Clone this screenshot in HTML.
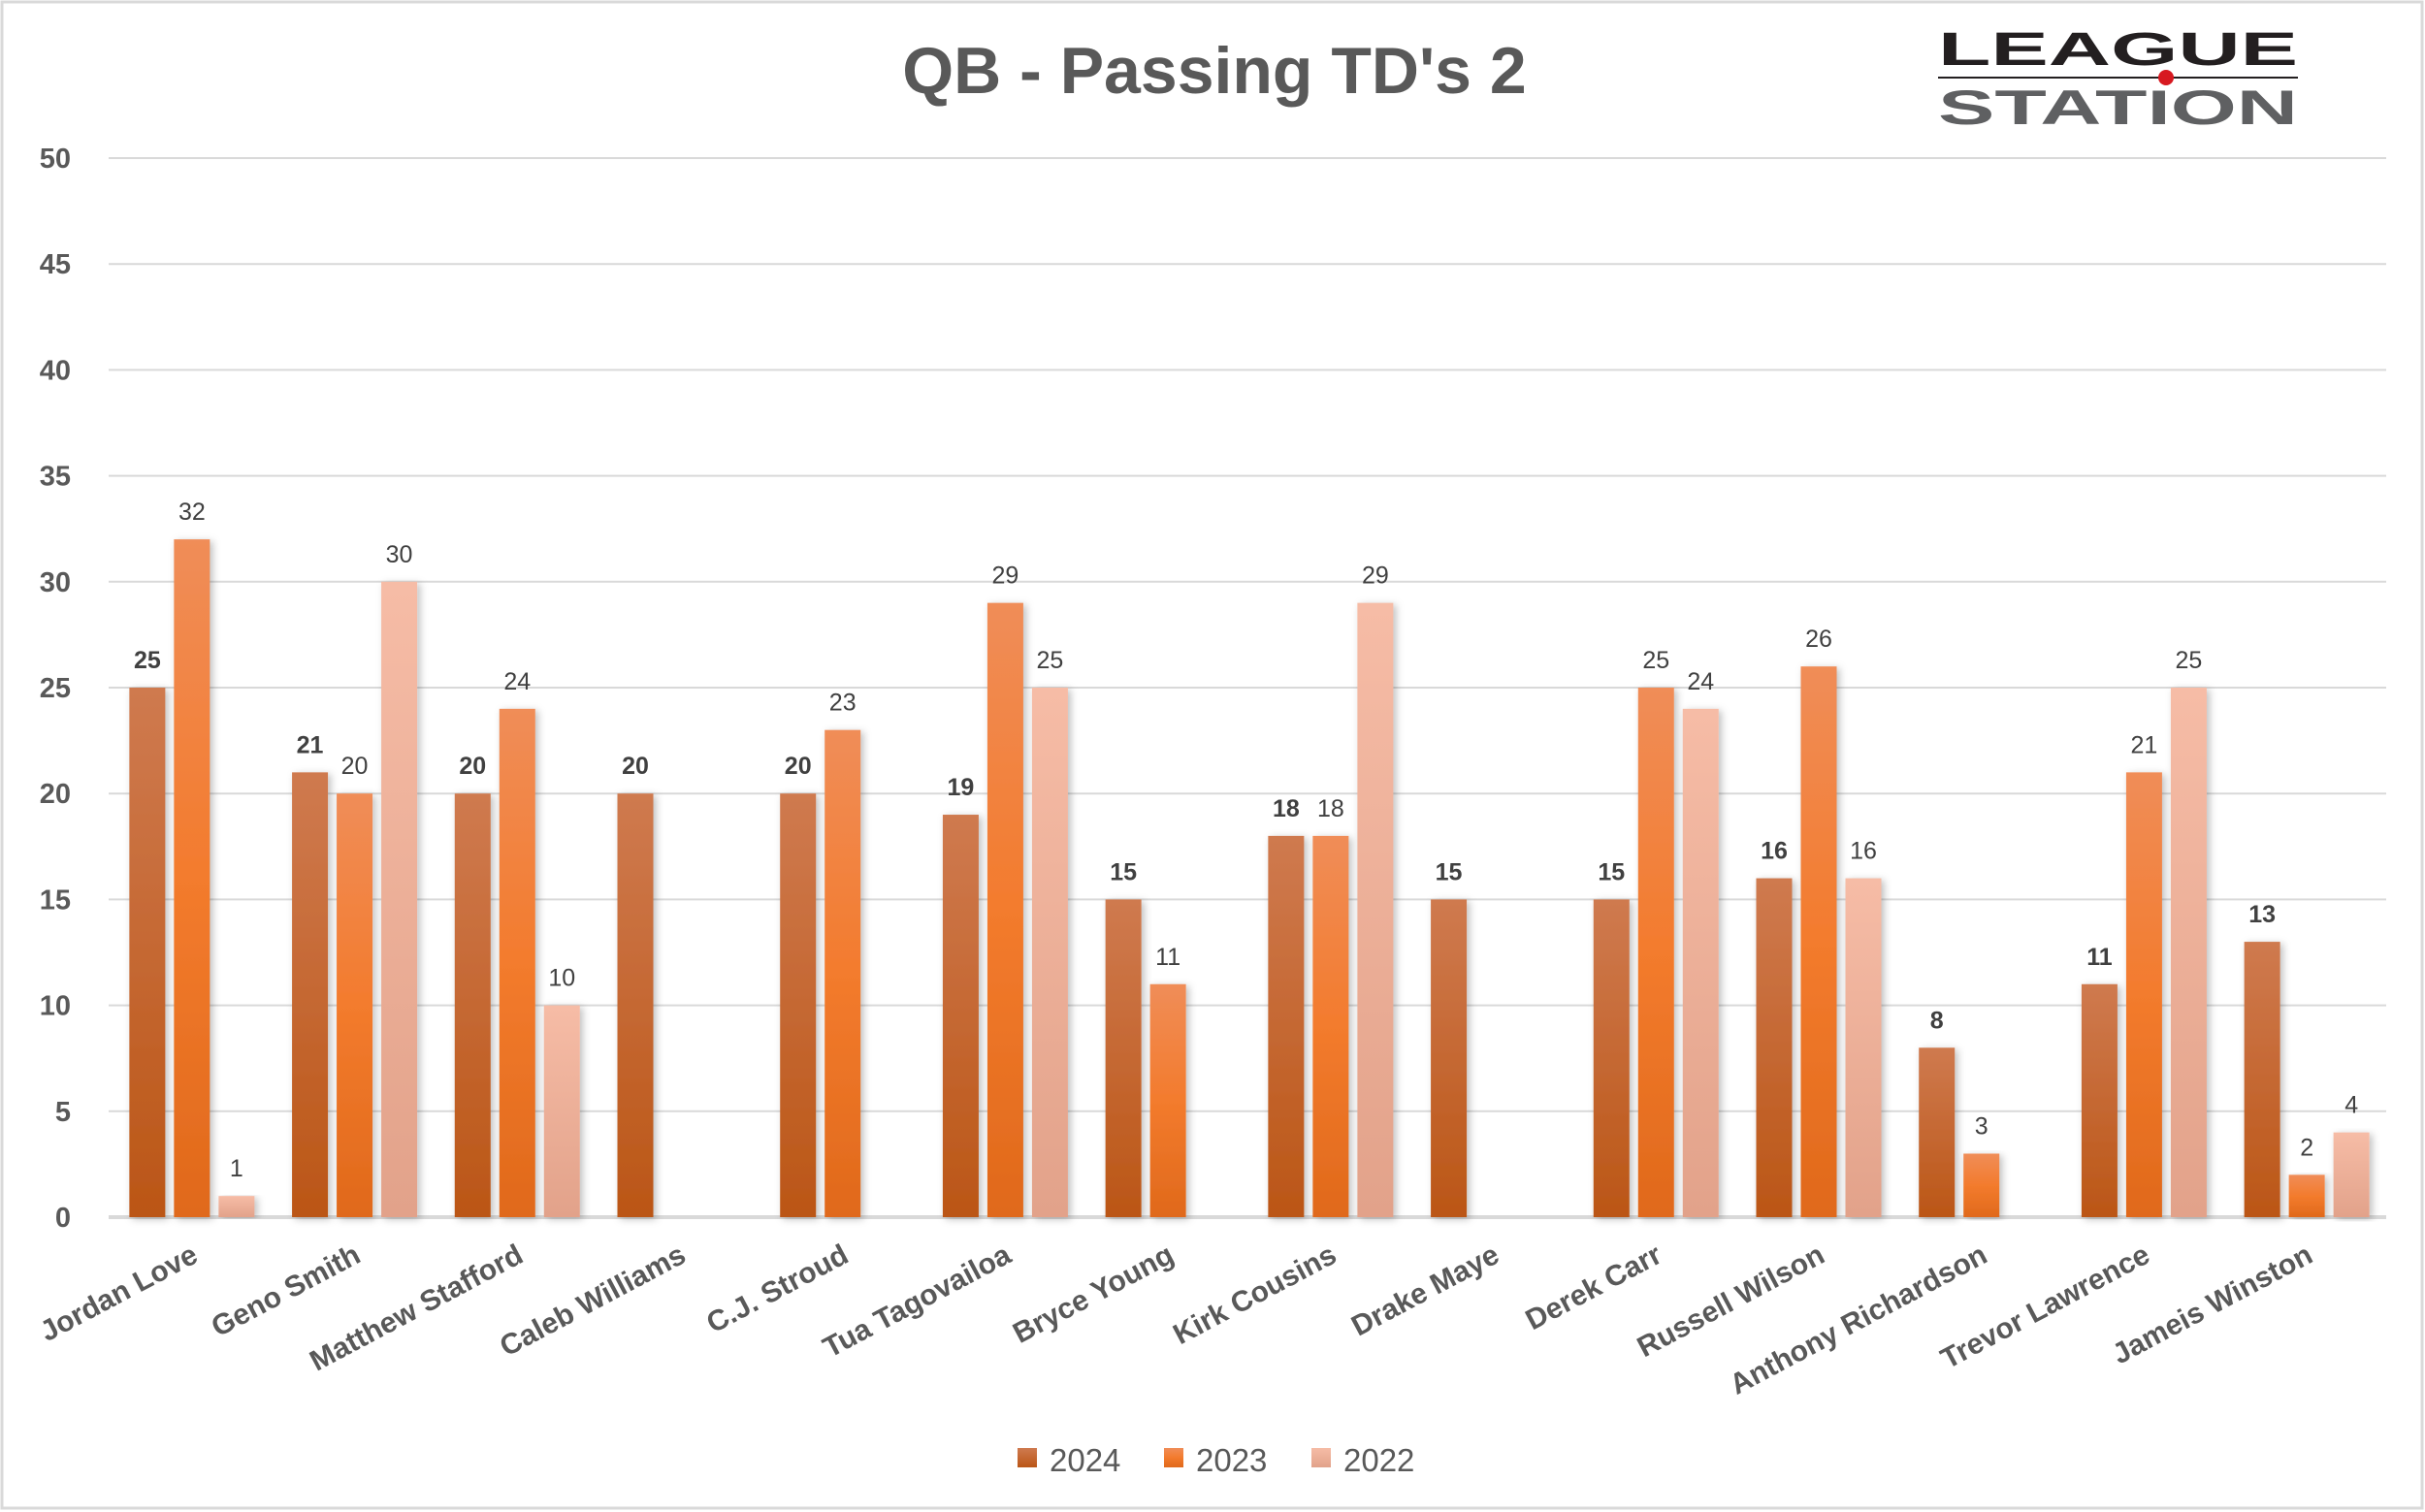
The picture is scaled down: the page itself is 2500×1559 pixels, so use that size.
<!DOCTYPE html>
<html><head><meta charset="utf-8"><style>
html,body{margin:0;padding:0;background:#fff;}
svg{display:block;font-family:"Liberation Sans",sans-serif;}
</style></head><body>
<svg id="chart" width="2500" height="1559" viewBox="0 0 2500 1559">
<defs>
<linearGradient id="g24" x1="0" y1="0" x2="0" y2="1"><stop offset="0" stop-color="#cf7a4f"/><stop offset="1" stop-color="#bb5616"/></linearGradient>
<linearGradient id="g23" x1="0" y1="0" x2="0" y2="1"><stop offset="0" stop-color="#f08d58"/><stop offset="0.5" stop-color="#f37b2d"/><stop offset="1" stop-color="#e0691b"/></linearGradient>
<linearGradient id="g22" x1="0" y1="0" x2="0" y2="1"><stop offset="0" stop-color="#f6bca6"/><stop offset="1" stop-color="#e2a28a"/></linearGradient>
<filter id="sh" x="-30%" y="-5%" width="160%" height="110%"><feDropShadow dx="3" dy="2" stdDeviation="4" flood-color="#000" flood-opacity="0.25"/></filter>
</defs>
<rect x="2" y="2" width="2495" height="1553" fill="#fff" stroke="#d9d9d9" stroke-width="3"/>
<text x="1252" y="96" text-anchor="middle" font-size="68" font-weight="bold" fill="#595959">QB - Passing TD's 2</text>
<g>
<text x="1998" y="67" font-size="48" font-weight="bold" fill="#231f20" textLength="371" lengthAdjust="spacingAndGlyphs">LEAGUE</text>
<line x1="1998" y1="80" x2="2369" y2="80" stroke="#231f20" stroke-width="2"/>
<circle cx="2233" cy="80" r="8" fill="#d71920"/>
<text x="1998" y="128" font-size="50" font-weight="bold" fill="#5f6062" textLength="371" lengthAdjust="spacingAndGlyphs">STATION</text>
</g>
<g id="grid"></g><g id="bars"></g><g id="labels"></g>
<g font-size="33" fill="#595959">
<rect x="1049" y="1493" width="20" height="20" fill="url(#g24)"/><text x="1082" y="1517">2024</text>
<rect x="1200" y="1493" width="20" height="20" fill="url(#g23)"/><text x="1233" y="1517">2023</text>
<rect x="1352" y="1493" width="20" height="20" fill="url(#g22)"/><text x="1385" y="1517">2022</text>
</g>
</svg>
<script>
const categories = ["Jordan Love","Geno Smith","Matthew Stafford","Caleb Williams","C.J. Stroud","Tua Tagovailoa","Bryce Young","Kirk Cousins","Drake Maye","Derek Carr","Russell Wilson","Anthony Richardson","Trevor Lawrence","Jameis Winston"];
const s2024 = [25,21,20,20,20,19,15,18,15,15,16,8,11,13];
const s2023 = [32,20,24,null,23,29,11,18,null,25,26,3,21,2];
const s2022 = [1,30,10,null,null,25,null,29,null,24,16,null,25,4];
const yTicks = [0,5,10,15,20,25,30,35,40,45,50];

const NS="http://www.w3.org/2000/svg";
const X0=112, X1=2460, Y0=1255, Y50=163;
const y = v => Y0 - (v/50)*(Y0-Y50);
const catW = (X1-X0)/categories.length;
const cx = i => X0 + catW*(i+0.5);
const barW=37, step=46;
function mk(tag, attrs, parent){const e=document.createElementNS(NS,tag);for(const k in attrs)e.setAttribute(k,attrs[k]);parent.appendChild(e);return e;}
const grid=document.getElementById('grid'), bars=document.getElementById('bars'), labels=document.getElementById('labels');
yTicks.forEach(t=>{
  const l=mk('line',{x1:X0,x2:X1,y1:y(t),y2:y(t),stroke:'#d9d9d9','stroke-width':t===0?4:2},grid);
  
  
  const tx=mk('text',{x:73,y:y(t)+10,'text-anchor':'end','font-size':29,'font-weight':'bold',fill:'#595959'},grid);
  tx.textContent=t;
  
  
});
const series=[{d:s2024,g:'url(#g24)',n:'2024',b:true},{d:s2023,g:'url(#g23)',n:'2023',b:false},{d:s2022,g:'url(#g22)',n:'2022',b:false}];
categories.forEach((c,i)=>{
  series.forEach((s,k)=>{
    const v=s.d[i]; if(v==null) return;
    const bx=cx(i)+2+(k-1)*step-barW/2;
    const r=mk('rect',{x:bx,y:y(v),width:barW,height:Y0-y(v),fill:s.g,filter:'url(#sh)'},bars);
    
    
    const t=mk('text',{x:bx+barW/2,y:y(v)-20,'text-anchor':'middle','font-size':25,'font-weight':s.b?'bold':'normal',fill:'#404040'},labels);
    t.textContent=v;
    
    
  });
  const lx=cx(i)+10, ly=1300;
  const t=mk('text',{x:lx,y:ly,'text-anchor':'end','font-size':30,'font-weight':'bold',fill:'#595959',transform:`rotate(-28 ${lx} ${ly})`},labels);
  t.textContent=c;
  
  
});
</script>
</body></html>
